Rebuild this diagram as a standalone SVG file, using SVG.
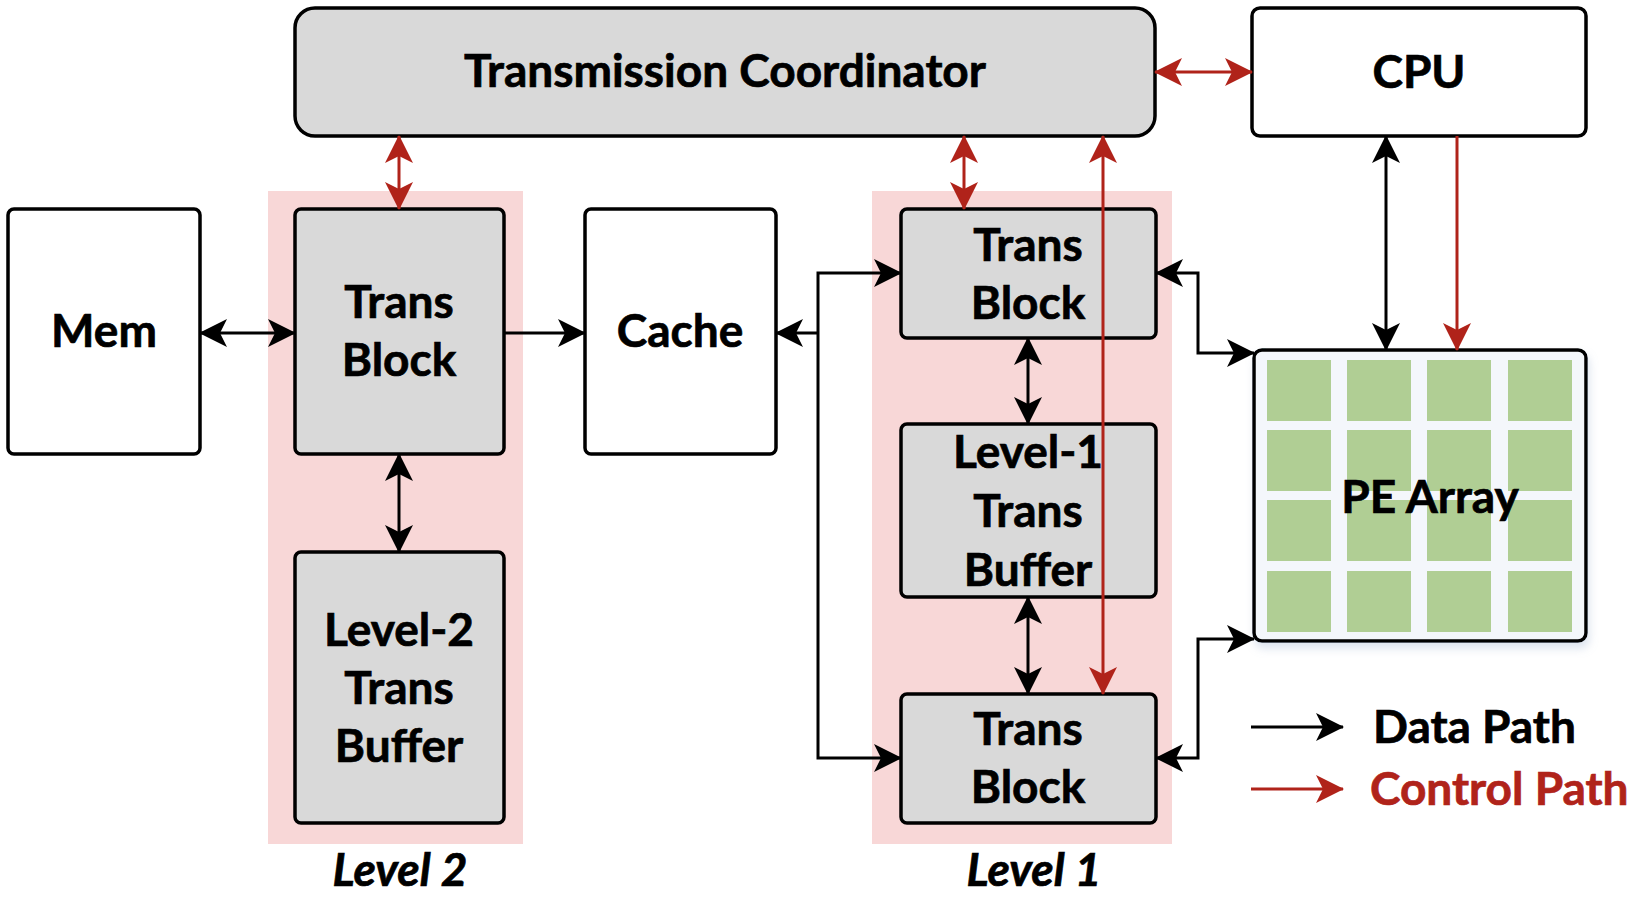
<svg xmlns="http://www.w3.org/2000/svg" width="1646" height="898" viewBox="0 0 1646 898">
<style>
.box{stroke:#000;stroke-width:3.5}
.gray{fill:#d9d9d9}
.white{fill:#fff}
.zone{fill:#f8d7d7}
.lbl{font-family:Lato,"Liberation Sans",sans-serif;font-weight:bold;font-size:46px;fill:#000;stroke:#000;stroke-width:0.7;text-anchor:middle}
.lvl{font-family:Lato,"Liberation Sans",sans-serif;font-weight:bold;font-style:italic;font-size:46px;fill:#000;stroke:#000;stroke-width:0.7;text-anchor:middle}
.data{fill:none;stroke:#000;stroke-width:3}
.ctrl{fill:none;stroke:#b0231a;stroke-width:3}
.cell{fill:#b0ce94}
</style>
<defs>
<marker id="ab" viewBox="0 0 28 28" refX="27" refY="14" markerWidth="28" markerHeight="28" markerUnits="userSpaceOnUse" orient="auto-start-reverse">
<path d="M0,0 L28,14 L0,28 L7,14 z" fill="#000"/>
</marker>
<marker id="ar" viewBox="0 0 28 28" refX="27" refY="14" markerWidth="28" markerHeight="28" markerUnits="userSpaceOnUse" orient="auto-start-reverse">
<path d="M0,0 L28,14 L0,28 L7,14 z" fill="#b0231a"/>
</marker>
<filter id="sh" x="-10%" y="-10%" width="130%" height="130%">
<feDropShadow dx="2" dy="6" stdDeviation="4" flood-color="#9fb3d0" flood-opacity="0.35"/>
</filter>
</defs>

<g id="zones">
<rect class="zone" x="268" y="191" width="255" height="653"/>
<rect class="zone" x="872" y="191" width="300" height="653"/>
</g>

<g id="tc">
<rect class="box gray" x="295" y="8" width="860" height="128" rx="20"/>
<text class="lbl" x="725" y="87">Transmission Coordinator</text>
</g>
<g id="cpu">
<rect class="box white" x="1252" y="8" width="334" height="128" rx="8"/>
<text class="lbl" x="1419" y="88">CPU</text>
</g>
<g id="mem">
<rect class="box white" x="8" y="209" width="192" height="245" rx="6"/>
<text class="lbl" x="104" y="347">Mem</text>
</g>
<g id="l2tb">
<rect class="box gray" x="295" y="209" width="209" height="245" rx="6"/>
<text class="lbl" x="399" y="318">Trans</text>
<text class="lbl" x="399" y="376">Block</text>
</g>
<g id="l2buf">
<rect class="box gray" x="295" y="552" width="209" height="271" rx="6"/>
<text class="lbl" x="399" y="646">Level-2</text>
<text class="lbl" x="399" y="704">Trans</text>
<text class="lbl" x="399" y="762">Buffer</text>
</g>
<g id="cache">
<rect class="box white" x="585" y="209" width="191" height="245" rx="6"/>
<text class="lbl" x="680" y="347">Cache</text>
</g>
<g id="l1tb1">
<rect class="box gray" x="901" y="209" width="255" height="129" rx="6"/>
<text class="lbl" x="1028" y="261">Trans</text>
<text class="lbl" x="1028" y="319">Block</text>
</g>
<g id="l1buf">
<rect class="box gray" x="901" y="424" width="255" height="173" rx="6"/>
<text class="lbl" x="1028" y="468">Level-1</text>
<text class="lbl" x="1028" y="527">Trans</text>
<text class="lbl" x="1028" y="586">Buffer</text>
</g>
<g id="l1tb2">
<rect class="box gray" x="901" y="694" width="255" height="129" rx="6"/>
<text class="lbl" x="1028" y="745">Trans</text>
<text class="lbl" x="1028" y="803">Block</text>
</g>
<g id="pe">
<rect class="box" x="1254" y="350" width="332" height="291" rx="8" fill="#f4f7fb" filter="url(#sh)"/>
<rect class="cell" x="1267" y="360" width="64" height="61"/>
<rect class="cell" x="1347" y="360" width="64" height="61"/>
<rect class="cell" x="1427" y="360" width="64" height="61"/>
<rect class="cell" x="1508" y="360" width="64" height="61"/>
<rect class="cell" x="1267" y="430" width="64" height="61"/>
<rect class="cell" x="1347" y="430" width="64" height="61"/>
<rect class="cell" x="1427" y="430" width="64" height="61"/>
<rect class="cell" x="1508" y="430" width="64" height="61"/>
<rect class="cell" x="1267" y="500" width="64" height="61"/>
<rect class="cell" x="1347" y="500" width="64" height="61"/>
<rect class="cell" x="1427" y="500" width="64" height="61"/>
<rect class="cell" x="1508" y="500" width="64" height="61"/>
<rect class="cell" x="1267" y="571" width="64" height="61"/>
<rect class="cell" x="1347" y="571" width="64" height="61"/>
<rect class="cell" x="1427" y="571" width="64" height="61"/>
<rect class="cell" x="1508" y="571" width="64" height="61"/>
<text class="lbl" x="1430" y="513">PE Array</text>
</g>

<g id="connectors">
<path class="data" d="M200,333 H295" marker-start="url(#ab)" marker-end="url(#ab)"/>
<path class="data" d="M504,333 H585" marker-end="url(#ab)"/>
<path class="data" d="M399,454 V552" marker-start="url(#ab)" marker-end="url(#ab)"/>
<path class="data" d="M901,273 H818 V758 H901" marker-start="url(#ab)" marker-end="url(#ab)"/>
<path class="data" d="M818,333 H776" marker-end="url(#ab)"/>
<path class="data" d="M1028,338 V424" marker-start="url(#ab)" marker-end="url(#ab)"/>
<path class="data" d="M1028,597 V694" marker-start="url(#ab)" marker-end="url(#ab)"/>
<path class="data" d="M1156,273 H1198 V353 H1254" marker-start="url(#ab)" marker-end="url(#ab)"/>
<path class="data" d="M1156,758 H1198 V639 H1254" marker-start="url(#ab)" marker-end="url(#ab)"/>
<path class="data" d="M1386,136 V350" marker-start="url(#ab)" marker-end="url(#ab)"/>
<path class="ctrl" d="M1155,72 H1252" marker-start="url(#ar)" marker-end="url(#ar)"/>
<path class="ctrl" d="M399,136 V209" marker-start="url(#ar)" marker-end="url(#ar)"/>
<path class="ctrl" d="M964,136 V209" marker-start="url(#ar)" marker-end="url(#ar)"/>
<path class="ctrl" d="M1103,136 V694" marker-start="url(#ar)" marker-end="url(#ar)"/>
<path class="ctrl" d="M1457,136 V350" marker-end="url(#ar)"/>
</g>

<g id="legend">
<path class="data" d="M1251,727 H1343" marker-end="url(#ab)"/>
<path class="ctrl" d="M1251,789 H1343" marker-end="url(#ar)"/>
<text class="lbl" x="1373" y="743" style="text-anchor:start">Data Path</text>
<text class="lbl" x="1370" y="805" style="text-anchor:start;fill:#b0231a;stroke:#b0231a">Control Path</text>
</g>

<g id="levels">
<text class="lvl" x="400" y="886">Level 2</text>
<text class="lvl" x="1034" y="886">Level 1</text>
</g>
</svg>
